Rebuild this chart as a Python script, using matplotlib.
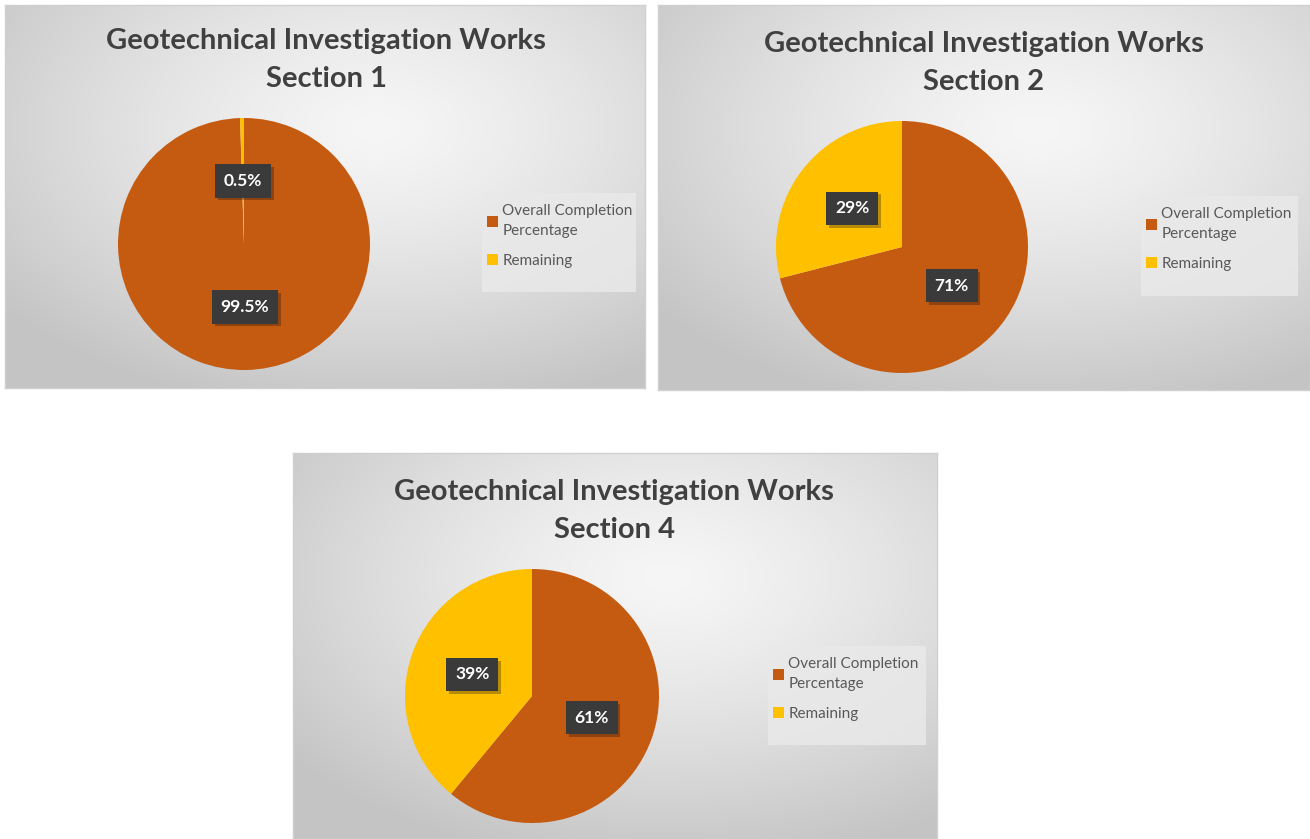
import numpy as np
import matplotlib
matplotlib.use('Agg')
from matplotlib import pyplot as plt
from matplotlib.patches import Rectangle
import matplotlib.patheffects as pe

# data
sections = ['Section 1', 'Section 2', 'Section 4']
series_labels = ['Overall Completion\nPercentage', 'Remaining']
completion = [99.5, 71, 61]
remaining = [0.5, 29, 39]
label_fmt = ['{:.1f}%', '{:.0f}%', '{:.0f}%']
colors = ['#C55A11', '#FFC000']

W, H = 1310, 839
plt.rcParams['font.family'] = ['Lato', 'DejaVu Sans']
fig = plt.figure(figsize=(W / 100, H / 100), dpi=100)
fig.patch.set_facecolor('white')

# panel layout in pixels: (x0, y0, x1, y1), pie centre, radius, title centre, legend box
panels = [
    dict(box=(5, 5, 645, 388), pie=(244, 244, 126), title=(326, 60), leg=(482, 193, 636, 292)),
    dict(box=(658, 5, 1310, 390), pie=(902, 247, 126), title=(984, 63), leg=(1141, 196, 1298, 296)),
    dict(box=(293, 453, 937, 839), pie=(532, 696, 127), title=(614, 511), leg=(768, 646, 926, 745)),
]


def fig_rect(x0, y0, x1, y1):
    return [x0 / W, 1 - y1 / H, (x1 - x0) / W, (y1 - y0) / H]


def gradient(w, h):
    yy, xx = np.mgrid[0:h, 0:w]
    cx, cy = 0.58 * w, 0.32 * h
    d = np.sqrt(((xx - cx) / w) ** 2 + ((yy - cy) / h) ** 2)
    d = np.clip(d / 0.75, 0, 1)
    light, dark = 0.965, 0.77
    v = light - (light - dark) * d ** 1.3
    return np.dstack([v, v, v])


for i, p in enumerate(panels):
    x0, y0, x1, y1 = p['box']
    bg = fig.add_axes(fig_rect(*p['box']))
    bg.imshow(gradient(x1 - x0, y1 - y0), extent=(0, 1, 0, 1), aspect='auto', zorder=0)
    bg.set_xlim(0, 1)
    bg.set_ylim(0, 1)
    for s in bg.spines.values():
        s.set_color('#d0d0d0')
        s.set_linewidth(1)
    bg.set_xticks([])
    bg.set_yticks([])

    # title
    tx, ty = p['title']
    fig.text(tx / W, 1 - ty / H, 'Geotechnical Investigation Works\n' + sections[i],
             ha='center', va='center', fontsize=21, fontweight='bold', color='#404040',
             linespacing=1.6)

    # legend box
    lx0, ly0, lx1, ly1 = p['leg']
    fig.patches.append(Rectangle((lx0 / W, 1 - ly1 / H), (lx1 - lx0) / W, (ly1 - ly0) / H,
                                 transform=fig.transFigure, facecolor='#e9e9e9',
                                 edgecolor='none', alpha=0.85, zorder=1))

    # pie
    cx, cy, r = p['pie']
    ax = fig.add_axes(fig_rect(cx - r, cy - r, cx + r, cy + r))
    vals = [completion[i], remaining[i]]
    fmt = label_fmt[i]
    wedges, texts = ax.pie(vals, colors=colors, startangle=90, counterclock=False,
                           labels=[fmt.format(v) for v in vals], labeldistance=0.5,
                           wedgeprops=dict(linewidth=0))
    for t in texts:
        t.set_ha('center')
        t.set_va('center')
        t.set_color('white')
        t.set_fontsize(12.5)
        t.set_fontweight('bold')
        t.set_bbox(dict(boxstyle='square,pad=0.5', facecolor='#3a3a3a', edgecolor='none'))
        t.get_bbox_patch().set_path_effects([pe.SimplePatchShadow(offset=(2, -2), alpha=0.3),
                                            pe.Normal()])
    ax.set_xlim(-1, 1)
    ax.set_ylim(-1, 1)
    ax.set_aspect('equal')

    leg = fig.legend(wedges, series_labels, loc='upper left',
                     bbox_to_anchor=((lx0 + 5) / W, 1 - (ly0 + 11) / H),
                     frameon=False, fontsize=11, labelcolor='#595959',
                     handlelength=0.75, handleheight=0.75, handletextpad=0.25,
                     labelspacing=1.05, borderpad=0, borderaxespad=0)
    leg.get_texts()[0].set_linespacing(1.55)
    leg.set_zorder(3)

fig.savefig('out.png', dpi=100, facecolor='white')
